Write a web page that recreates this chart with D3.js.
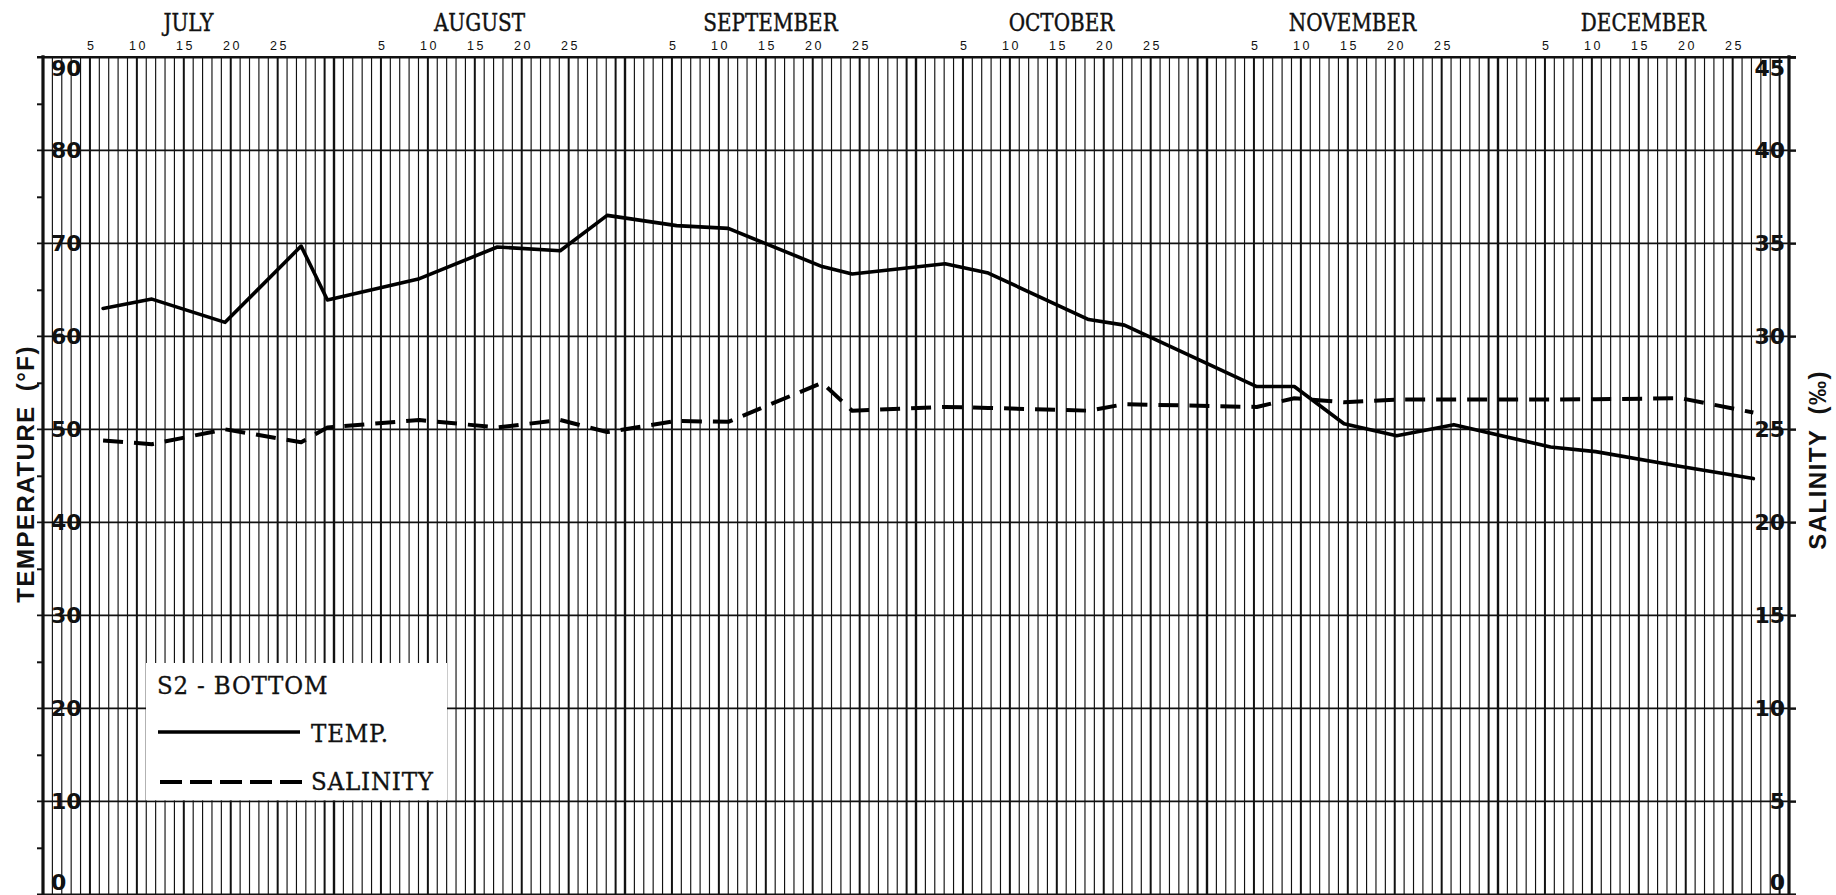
<!DOCTYPE html>
<html>
<head>
<meta charset="utf-8">
<script src="https://cdn.jsdelivr.net/npm/d3@7"></script>
<style>
  html, body { margin: 0; padding: 0; background: #fff; }
  svg { display: block; }
</style>
</head>
<body>
<svg id="chart" width="1836" height="895"></svg>
<script>
// Station S2, bottom water: temperature and salinity, July - December
const months = ["JULY", "AUGUST", "SEPTEMBER", "OCTOBER", "NOVEMBER", "DECEMBER"];
const dayTicks = [5, 10, 15, 20, 25];
const tempTicks = [0, 10, 20, 30, 40, 50, 60, 70, 80, 90];
const salinityTicks = [0, 5, 10, 15, 20, 25, 30, 35, 40, 45];

// sampling dates: month index (0 = July) and day of month
const sampleMonth = [0, 0, 0, 0, 0, 1, 1, 1, 1, 2, 2, 2, 2, 3, 3, 3, 3, 4, 4, 4, 4, 4, 5, 5, 5, 5];
const sampleDay = [6.4, 11.6, 19.4, 27.5, 30.3, 9.1, 17.4, 24.1, 29.1, 5.5, 11.0, 21.0, 24.2,
                   3.1, 7.7, 18.4, 22.2, 5.3, 9.3, 14.6, 20.2, 26.3, 5.6, 10.4, 19.5, 27.2];
const temperatureF = [63.0, 64.0, 61.5, 69.7, 63.9, 66.2, 69.6, 69.2, 73.0, 71.9, 71.6, 67.5, 66.7,
                      67.8, 66.8, 61.8, 61.2, 54.6, 54.6, 50.6, 49.3, 50.5, 48.1, 47.6, 46.0, 44.7];
const salinity = [24.4, 24.2, 25.0, 24.3, 25.1, 25.5, 25.1, 25.5, 24.85, 25.45, 25.4, 27.5, 26.0,
                  26.2, 26.15, 26.0, 26.35, 26.2, 26.67, 26.45, 26.6, 26.6, 26.6, 26.62, 26.67, 25.9];

const slotsPerMonth = 31;
const W = 1836, H = 895;
const margin = { top: 57.3, right: 47, bottom: 0.7, left: 43 };

const svg = d3.select("#chart");
svg.append("rect").attr("width", W).attr("height", H).attr("fill", "#fff");

const x = d3.scaleLinear().domain([0, months.length * slotsPerMonth]).range([margin.left, W - margin.right]);
const yT = d3.scaleLinear().domain([0, 90]).range([H - margin.bottom, margin.top]);
const yS = d3.scaleLinear().domain([0, 45]).range([H - margin.bottom, margin.top]);

const slotOf = (m, d) => m * slotsPerMonth + d;
const x0 = x.range()[0], x1 = x.range()[1];
const yTop = yT(90), yBot = yT(0);

// ---- graph paper: one vertical line per day, heavier every 5 days and at month ends
const slots = d3.range(1, months.length * slotsPerMonth);
svg.append("g").selectAll("line").data(slots).join("line")
  .attr("x1", s => x(s)).attr("x2", s => x(s))
  .attr("y1", yTop).attr("y2", yBot)
  .attr("stroke", "#111")
  .attr("stroke-width", s => s % slotsPerMonth === 0 ? 2.4 : ((s % slotsPerMonth) % 5 === 0 ? 2.0 : 1.15));

// horizontal rules every 10 °F, reaching past both axes as ticks
svg.append("g").selectAll("line").data(tempTicks).join("line")
  .attr("x1", x0 - 6).attr("x2", x1 + 7)
  .attr("y1", d => yT(d)).attr("y2", d => yT(d))
  .attr("stroke", "#111")
  .attr("stroke-width", d => d === 90 ? 2.4 : 1.8);

// left axis with minor ticks at the odd fives
const leftAxis = d3.axisLeft(yT).tickValues(d3.range(5, 90, 10)).tickSize(6).tickFormat("");
const gl = svg.append("g").attr("transform", `translate(${x0},0)`).call(leftAxis);
gl.select(".domain").remove();
gl.selectAll(".tick line").attr("stroke", "#111").attr("stroke-width", 2);
svg.append("line").attr("x1", x0).attr("x2", x0).attr("y1", yTop - 2).attr("y2", yBot)
  .attr("stroke", "#111").attr("stroke-width", 3.2);

// right axis (salinity)
const rightAxis = d3.axisRight(yS).tickValues(salinityTicks).tickSize(7).tickFormat("");
const gr = svg.append("g").attr("transform", `translate(${x1},0)`).call(rightAxis);
gr.select(".domain").remove();
gr.selectAll(".tick line").attr("stroke", "#111").attr("stroke-width", 2);
svg.append("line").attr("x1", x1).attr("x2", x1).attr("y1", yTop - 2).attr("y2", yBot)
  .attr("stroke", "#111").attr("stroke-width", 3.2);

// axis numerals drawn just inside the frame
const numFont = "'DejaVu Sans', sans-serif";
const labelY = (py, v, top, bottom) => v === top ? py + 19 : (v === bottom ? py - 4 : py + 8);
svg.append("g").selectAll("text").data(tempTicks).join("text")
  .attr("x", x0 + 8)
  .attr("y", d => labelY(yT(d), d, 90, 0))
  .attr("font-family", numFont).attr("font-weight", "bold").attr("font-size", 22)
  .attr("fill", "#111")
  .text(d => d);
svg.append("g").selectAll("text").data(salinityTicks).join("text")
  .attr("x", x1 - 4)
  .attr("y", d => labelY(yS(d), d, 45, 0))
  .attr("text-anchor", "end")
  .attr("font-family", numFont).attr("font-weight", "bold").attr("font-size", 22)
  .attr("fill", "#111")
  .text(d => d);

// top axis: day numbers and month names
const dayTickSlots = [];
months.forEach((m, i) => dayTicks.forEach(d => dayTickSlots.push({ slot: slotOf(i, d), day: d })));
const topAxis = d3.axisTop(x).tickValues(dayTickSlots.map(d => d.slot)).tickSize(0).tickPadding(7)
  .tickFormat((v, i) => dayTickSlots[i].day);
const gt = svg.append("g").attr("transform", `translate(0,${yTop})`).call(topAxis);
gt.select(".domain").remove();
gt.selectAll(".tick text")
  .attr("font-family", "'Liberation Sans', Arial, sans-serif")
  .attr("font-size", 12.5).attr("letter-spacing", 2.5)
  .attr("dx", 1.2).attr("fill", "#111");

// typewriter-style lettering for month names and legend
const typeFont = "'DejaVu Serif', 'Liberation Serif', serif";
svg.append("g").selectAll("text").data(months).join("text")
  .attr("transform", (d, i) => `translate(${x(slotOf(i, slotsPerMonth / 2))},31) scale(1,1.2)`)
  .attr("text-anchor", "middle")
  .attr("font-family", typeFont).attr("font-size", 20)
  .attr("fill", "#111").attr("stroke", "#111").attr("stroke-width", 0.35)
  .text(d => d);

// axis titles
const titleFont = "'Liberation Sans', Arial, sans-serif";
const tTitle = svg.append("text")
  .attr("transform", "translate(34,345) rotate(-90)")
  .attr("text-anchor", "end")
  .attr("font-family", titleFont).attr("font-weight", "bold").attr("font-size", 24)
  .attr("letter-spacing", 1.5).attr("fill", "#111");
tTitle.append("tspan").text("TEMPERATURE");
tTitle.append("tspan").attr("dx", 14).text("(°F)");

const sTitle = svg.append("text")
  .attr("transform", "translate(1826,370) rotate(-90)")
  .attr("text-anchor", "end")
  .attr("font-family", titleFont).attr("font-weight", "bold").attr("font-size", 24)
  .attr("letter-spacing", 1.5).attr("fill", "#111");
sTitle.append("tspan").text("SALINITY");
sTitle.append("tspan").attr("dx", 14).text("(‰)");

// ---- data lines
const points = sampleMonth.map((m, i) => ({
  slot: slotOf(m, sampleDay[i]), temp: temperatureF[i], sal: salinity[i]
}));

svg.append("path").datum(points)
  .attr("fill", "none").attr("stroke", "#000").attr("stroke-width", 3.6)
  .attr("stroke-linejoin", "round").attr("stroke-linecap", "round")
  .attr("d", d3.line().x(d => x(d.slot)).y(d => yT(d.temp)));

svg.append("path").datum(points)
  .attr("fill", "none").attr("stroke", "#000").attr("stroke-width", 4)
  .attr("stroke-dasharray", "20 11")
  .attr("stroke-linejoin", "round")
  .attr("d", d3.line().x(d => x(d.slot)).y(d => yS(d.sal)));

// ---- legend
const lg = svg.append("g");
lg.append("rect").attr("x", 146).attr("y", 663).attr("width", 301).attr("height", yT(10) - 663 - 1)
  .attr("fill", "#fff");
const legendText = (tx, ty, str) => lg.append("text")
  .attr("transform", `translate(${tx},${ty}) scale(1,1.05)`)
  .attr("font-family", typeFont).attr("font-size", 23).attr("letter-spacing", 0.8)
  .attr("fill", "#111").attr("stroke", "#111").attr("stroke-width", 0.3)
  .text(str);
legendText(157, 694, "S2 - BOTTOM");
lg.append("line").attr("x1", 158).attr("x2", 300).attr("y1", 732).attr("y2", 732)
  .attr("stroke", "#000").attr("stroke-width", 3.4);
legendText(311, 742, "TEMP.");
lg.append("line").attr("x1", 160).attr("x2", 302).attr("y1", 782).attr("y2", 782)
  .attr("stroke", "#000").attr("stroke-width", 4).attr("stroke-dasharray", "22 8");
legendText(311, 790, "SALINITY");
</script>
</body>
</html>
